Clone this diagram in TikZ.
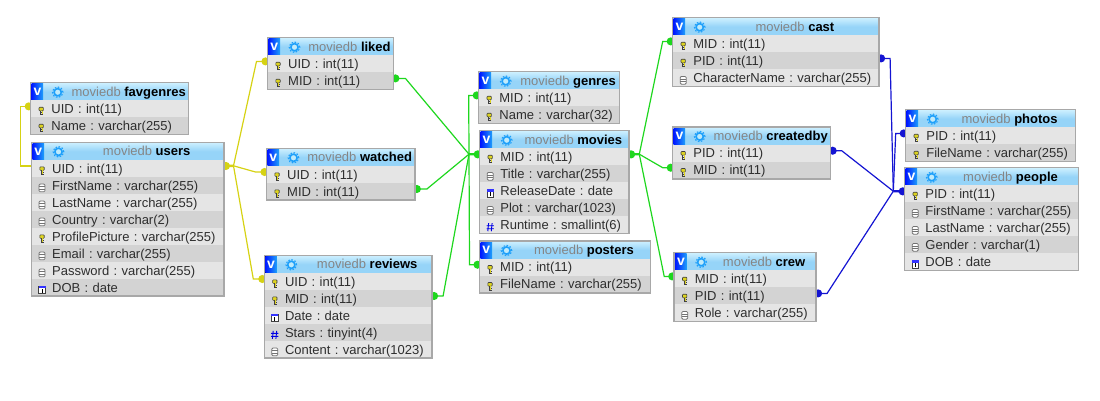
\documentclass[tikz,border=0pt]{standalone}
\usepackage{fontspec}
\setmainfont{Liberation Sans}
\usetikzlibrary{arrows.meta,backgrounds}
\definecolor{rowodd}{RGB}{229,229,229}
\definecolor{roweven}{RGB}{211,211,211}
\definecolor{headtop}{RGB}{205,240,255}
\definecolor{headbot}{RGB}{150,212,248}
\definecolor{edgegrey}{RGB}{168,168,168}
\definecolor{linkyellow}{RGB}{214,210,20}
\definecolor{linkgreen}{RGB}{30,215,30}
\definecolor{linkblue}{RGB}{20,20,210}
\definecolor{iconblue}{RGB}{30,160,250}
\tikzset{
  dbhead/.style={anchor=north west,inner sep=0pt,minimum height=17.5pt,text height=10.5pt,text depth=1.5pt,top color=headtop,bottom color=headbot,middle color=headbot,font=\fontsize{13}{13}\selectfont},
  dbrow/.style={anchor=north west,inner sep=0pt,minimum height=17pt,text height=10.5pt,text depth=1.5pt,align=left,text=black!82,font=\fontsize{13}{13}\selectfont},
  link/.style={line width=1.2pt,{Circle[length=8pt,width=8pt]}-,shorten <=-2pt},
  hubstub/.style={line width=2.4pt},
  pics/rowkey/.style={code={
    \draw[black!75,fill=yellow!85!black,line width=.6pt,rounded corners=.8pt] (-2.2,-4) rectangle (2.2,-.4);
    \draw[black!75,line width=1pt] (-.5,-.4) -- (-.5,4) (-.5,1.6) -- (1.8,1.6) (-.5,3.6) -- (1.8,3.6);
    \fill[yellow!85!black] (.4,-.4) rectangle (1.2,3);
  }},
  pics/rowdoc/.style={code={
    \draw[black!55,fill=white,line width=.8pt,rounded corners=1.2pt] (-3,-3.8) rectangle (3,4);
    \draw[black!55,line width=.7pt] (-3,-1.2) -- (3,-1.2) (-3,1.4) -- (3,1.4);
  }},
  pics/rowdate/.style={code={
    \draw[black!75,fill=white,line width=.7pt] (-3.2,-3.5) rectangle (3.2,3.8);
    \fill[blue!80] (-3.5,-3.8) rectangle (3.5,-1.6);
    \draw[black,line width=.8pt] (0,-.8) -- (0,2.8);
  }},
  pics/rownum/.style={code={
    \draw[blue!90!black,line width=.9pt] (-1.6,-4) -- (-2.4,4) (1.9,-4) -- (1.1,4) (-3.6,-1.5) -- (3.6,-1.5) (-3.6,1.5) -- (3.6,1.5);
  }}
}
% one table: id, x, y, width, name, rows
\newcommand{\dbtable}[6]{
  \node[dbhead,minimum width=#4pt] (#1-head) at (#2,#3) {\hspace*{38pt}\makebox[\dimexpr#4pt-40pt\relax][c]{\textcolor{black!48}{moviedb} \textbf{#5}}};
  \fill[left color=blue!90!cyan,right color=iconblue] (#2+1,#3+1) rectangle (#2+12.5,#3+17.5);
  \node[inner sep=0pt,text=white,font=\fontsize{14}{14}\bfseries\selectfont] (#1-v) at (#2+6.8,#3+9) {v};
  \draw[iconblue,line width=1.6pt,fill=cyan!25] (#2+27,#3+9.5) circle (3.6pt);
  \draw[iconblue,line width=1.1pt,dash pattern=on 1.6pt off 1.6pt] (#2+27,#3+9.5) circle (5.3pt);
  \foreach \kind/\field [count=\i] in {#6} {
    \ifodd\i\def\rowfill{rowodd}\else\def\rowfill{roweven}\fi
    \node[dbrow,fill=\rowfill,text width=#4pt] (#1-\i) at (#2,{#3+17.5+17*(\i-1)}) {\hspace*{20.5pt}\field};
    \pic at (#2+10.5,{#3+17.5+17*(\i-1)+11}) {\kind};
    \xdef\lastrow{\i}
  }
  \draw[edgegrey,line width=1.5pt] (#1-head.north west) rectangle (#1-\lastrow.south east);
}
\frenchspacing
\begin{document}
\begin{tikzpicture}[x=1pt,y=-1pt]
  \useasboundingbox (0,0) rectangle (1100,400);

  \dbtable{favgenres}{30.7}{82.7}{157.6}{favgenres}{rowkey/UID : int(11),rowkey/Name : varchar(255)}
  \dbtable{users}{31.5}{142.3}{192}{users}{rowkey/UID : int(11),rowdoc/FirstName : varchar(255),rowdoc/LastName : varchar(255),rowdoc/Country : varchar(2),rowkey/ProfilePicture : varchar(255),rowdoc/Email : varchar(255),rowdoc/Password : varchar(255),rowdate/DOB : date}
  \dbtable{liked}{267.5}{37.7}{125.5}{liked}{rowkey/UID : int(11),rowkey/MID : int(11)}
  \dbtable{watched}{266.5}{148.3}{148}{watched}{rowkey/UID : int(11),rowkey/MID : int(11)}
  \dbtable{reviews}{264.3}{255.3}{167.4}{reviews}{rowkey/UID : int(11),rowkey/MID : int(11),rowdate/Date : date,rownum/Stars : tinyint(4),rowdoc/Content : varchar(1023)}
  \dbtable{genres}{478.7}{71.7}{140.3}{genres}{rowkey/MID : int(11),rowkey/Name : varchar(32)}
  \dbtable{movies}{479.7}{130.7}{149}{movies}{rowkey/MID : int(11),rowdoc/Title : varchar(255),rowdate/ReleaseDate : date,rowdoc/Plot : varchar(1023),rownum/Runtime : smallint(6)}
  \dbtable{posters}{479.5}{241}{170.5}{posters}{rowkey/MID : int(11),rowkey/FileName : varchar(255)}
  \dbtable{cast}{672.7}{17.7}{206}{cast}{rowkey/MID : int(11),rowkey/PID : int(11),rowdoc/CharacterName : varchar(255)}
  \dbtable{createdby}{672.7}{127}{157.6}{createdby}{rowkey/PID : int(11),rowkey/MID : int(11)}
  \dbtable{crew}{674.2}{252.7}{141.5}{crew}{rowkey/MID : int(11),rowkey/PID : int(11),rowdoc/Role : varchar(255)}
  \dbtable{photos}{905.7}{109.7}{169.3}{photos}{rowkey/PID : int(11),rowkey/FileName : varchar(255)}
  \dbtable{people}{904.7}{167.7}{173.3}{people}{rowkey/PID : int(11),rowdoc/FirstName : varchar(255),rowdoc/LastName : varchar(255),rowdoc/Gender : varchar(1),rowdate/DOB : date}

  \coordinate (hubU) at (233.5,165.8);
  \coordinate (hubM) at (469,154.2);
  \coordinate (hubO) at (639.3,154.2);
  \coordinate (hubP) at (893.3,191.2);

  \begin{scope}[on background layer]
    % users side
    \begin{scope}[linkyellow]
      \draw[link] ([yshift=2.5]favgenres-1.west) -- ++(-10,0) |- ([yshift=2.5]users-1.west);
      \draw[link,hubstub] ([yshift=2.5]users-1.east) -- (hubU);
      \draw[link] ([yshift=2.5]liked-1.west) -- ++(-11,0) -- (hubU);
      \draw[link] ([yshift=2.5]watched-1.west) -- ++(-11,0) -- (hubU);
      \draw[link] ([yshift=2.5]reviews-1.west) -- ++(-11,0) -- (hubU);
    \end{scope}
    % movies side
    \begin{scope}[linkgreen]
      \draw[link,hubstub] ([yshift=2.5]movies-1.west) -- (hubM);
      \draw[link] ([yshift=2.5]genres-1.west) -- ++(-10,0) -- (hubM);
      \draw[link] ([yshift=2.5]posters-1.west) -- ++(-10,0) -- (hubM);
      \draw[link] ([yshift=2.5]liked-2.east) -- ++(12,0) -- (hubM);
      \draw[link] ([yshift=2.5]watched-2.east) -- ++(12,0) -- (hubM);
      \draw[link] ([yshift=2.5]reviews-2.east) -- ++(11,0) -- (hubM);
      \draw[link,hubstub] ([yshift=2.5]movies-1.east) -- (hubO);
      \draw[link] ([yshift=2.5]cast-1.west) -- ++(-10,0) -- (hubO);
      \draw[link] ([yshift=2.5]createdby-2.west) -- ++(-10,0) -- (hubO);
      \draw[link] ([yshift=2.5]crew-1.west) -- ++(-10,0) -- (hubO);
    \end{scope}
    % people side
    \begin{scope}[linkblue]
      \draw[link,hubstub] ([yshift=2.5]people-1.west) -- (hubP);
      \draw[link] ([yshift=2.5]photos-1.west) -- ++(-10,0) -- (hubP);
      \draw[link] ([yshift=2.5]cast-2.east) -- ++(11,0) -- (hubP);
      \draw[link] ([yshift=2.5]createdby-1.east) -- ++(11,0) -- (hubP);
      \draw[link] ([yshift=2.5]crew-2.east) -- ++(11,0) -- (hubP);
    \end{scope}
  \end{scope}
\end{tikzpicture}
\end{document}
